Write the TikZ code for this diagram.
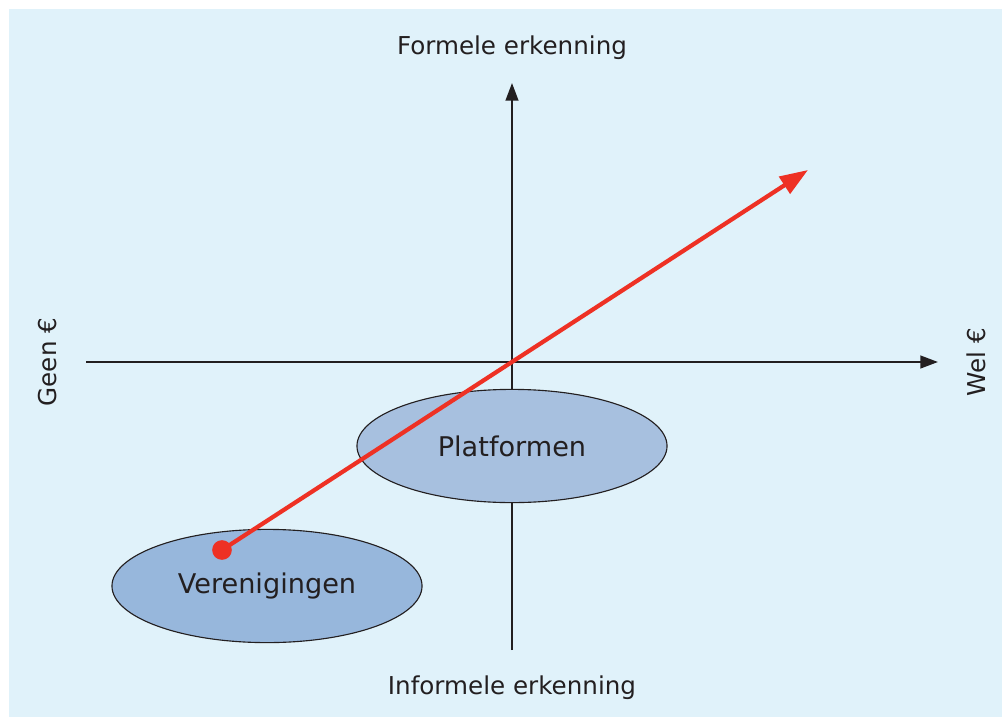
\documentclass[tikz,border=0pt]{standalone}
\usepackage{fontspec}
\setmainfont{DejaVu Sans}
\usetikzlibrary{arrows.meta,positioning,shapes.geometric}

\definecolor{paneblue}{HTML}{E0F2FA}
\definecolor{platblue}{HTML}{A7C0DF}
\definecolor{verblue}{HTML}{97B7DC}
\definecolor{trendred}{HTML}{EE3124}
\definecolor{inkgray}{HTML}{231F20}

\begin{document}
\begin{tikzpicture}[
    x=0.025cm, y=-0.025cm,
    axis_line/.style={-{Triangle[length=12.5pt, width=9pt]}, line width=1.5pt, color=inkgray},
    axis_label/.style={inner sep=0pt, text=inkgray, font=\fontsize{17.5}{21}\selectfont},
    group_node/.style={ellipse, draw=inkgray, line width=0.8pt, minimum width=7.75cm, minimum height=2.83cm, inner sep=0pt, text=inkgray, font=\fontsize{19.3}{23}\selectfont},
    trend_arrow/.style={-{Triangle[length=20pt, width=14pt]}, line width=3pt, color=trendred},
    start_dot/.style={circle, fill=trendred, minimum size=14pt, inner sep=0pt}
]

% --- FRAME ---
\useasboundingbox (0,0) rectangle (1002,717);
\fill[paneblue] (9,9) rectangle (1002,717);

% --- AXES ---
\coordinate (origin) at (512,362);
\coordinate (x_left) at (86,362);
\coordinate (x_right) at (938,362);
\coordinate (y_top) at (512,83);
\coordinate (y_bottom) at (512,650);

\draw[axis_line] (x_left) -- (x_right);
\draw[axis_line] (y_bottom) -- (y_top);

% axis labels
\node[axis_label] (formal) at (512,48) {Formele erkenning};
\node[axis_label] (informal) at (512,688) {Informele erkenning};
\node[axis_label, rotate=90] (no_money) at (48,362) {Geen €};
\node[axis_label, rotate=90] (money) at (976,362) {Wel €};

% --- GROUPS ---
\node[group_node, fill=platblue] (platforms) at (512,446) {Platformen};
\node[group_node, fill=verblue] (clubs) at (267,586) {Verenigingen};

% --- TREND ---
\node[start_dot] (trend_start) at (222,550) {};
\coordinate (trend_end) at (808,170);
\draw[trend_arrow] (trend_start.center) -- (trend_end);

\end{tikzpicture}
\end{document}
